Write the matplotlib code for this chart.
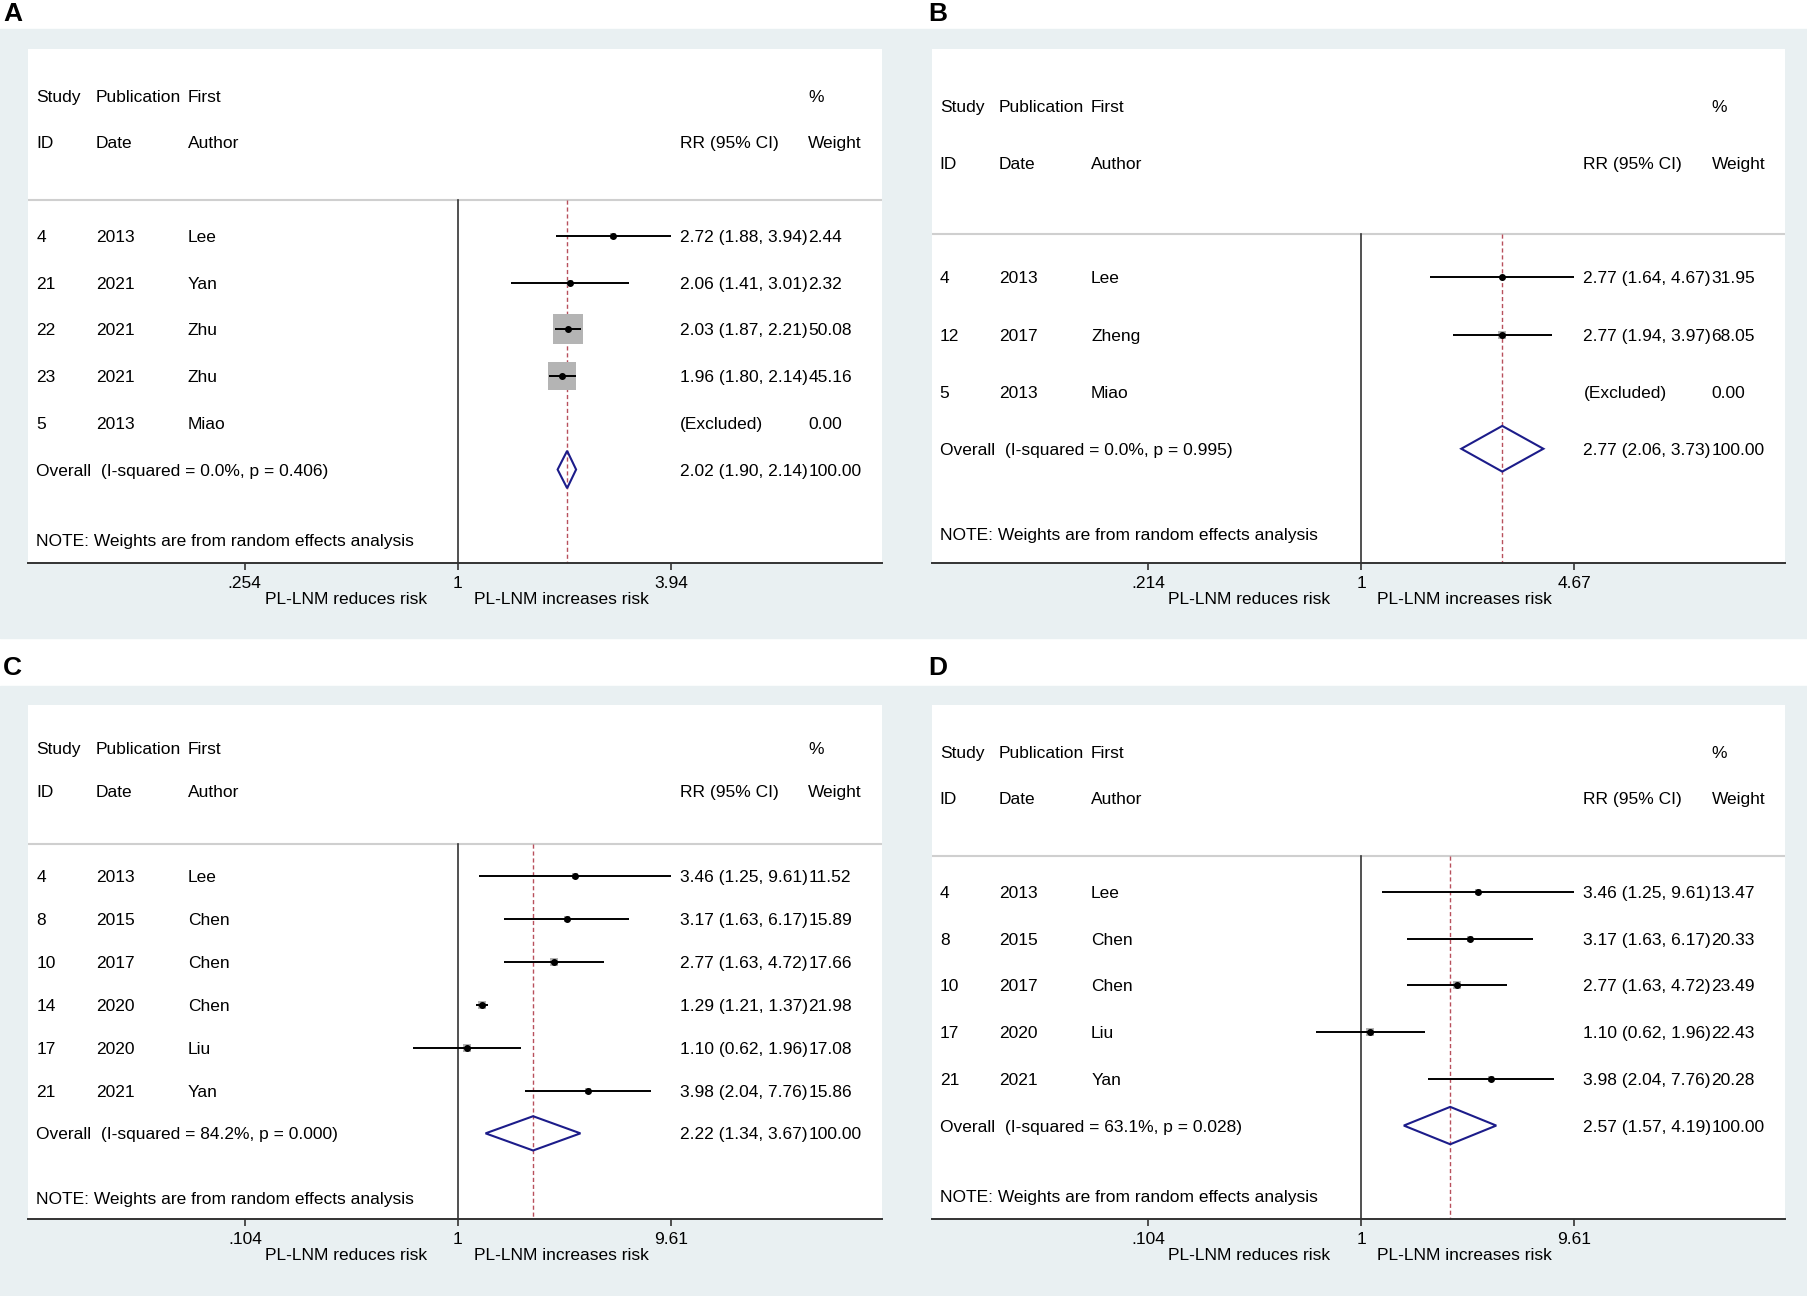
"""Four-panel forest plot (Stata metan look): RR of PL-LNM, random effects."""
import matplotlib
matplotlib.use('Agg')
import matplotlib.pyplot as plt
from matplotlib.patches import Polygon, Rectangle

plt.rcParams['font.family'] = ['Liberation Sans', 'DejaVu Sans']
FS = 12.5

# ---- panel A ----
A_ID = ['4', '21', '22', '23', '5']
A_YEAR = ['2013', '2021', '2021', '2021', '2013']
A_AUTHOR = ['Lee', 'Yan', 'Zhu', 'Zhu', 'Miao']
A_RR = [2.72, 2.06, 2.03, 1.96, None]
A_LO = [1.88, 1.41, 1.87, 1.80, None]
A_HI = [3.94, 3.01, 2.21, 2.14, None]
A_WEIGHT = [2.44, 2.32, 50.08, 45.16, 0.00]
A_OVERALL = [2.02, 1.90, 2.14]
A_I2, A_P = 0.0, 0.406
A_TICKS = [0.254, 1, 3.94]

# ---- panel B ----
B_ID = ['4', '12', '5']
B_YEAR = ['2013', '2017', '2013']
B_AUTHOR = ['Lee', 'Zheng', 'Miao']
B_RR = [2.77, 2.77, None]
B_LO = [1.64, 1.94, None]
B_HI = [4.67, 3.97, None]
B_WEIGHT = [31.95, 68.05, 0.00]
B_OVERALL = [2.77, 2.06, 3.73]
B_I2, B_P = 0.0, 0.995
B_TICKS = [0.214, 1, 4.67]

# ---- panel C ----
C_ID = ['4', '8', '10', '14', '17', '21']
C_YEAR = ['2013', '2015', '2017', '2020', '2020', '2021']
C_AUTHOR = ['Lee', 'Chen', 'Chen', 'Chen', 'Liu', 'Yan']
C_RR = [3.46, 3.17, 2.77, 1.29, 1.10, 3.98]
C_LO = [1.25, 1.63, 1.63, 1.21, 0.62, 2.04]
C_HI = [9.61, 6.17, 4.72, 1.37, 1.96, 7.76]
C_WEIGHT = [11.52, 15.89, 17.66, 21.98, 17.08, 15.86]
C_OVERALL = [2.22, 1.34, 3.67]
C_I2, C_P = 84.2, 0.000
C_TICKS = [0.104, 1, 9.61]

# ---- panel D ----
D_ID = ['4', '8', '10', '17', '21']
D_YEAR = ['2013', '2015', '2017', '2020', '2021']
D_AUTHOR = ['Lee', 'Chen', 'Chen', 'Liu', 'Yan']
D_RR = [3.46, 3.17, 2.77, 1.10, 3.98]
D_LO = [1.25, 1.63, 1.63, 0.62, 2.04]
D_HI = [9.61, 6.17, 4.72, 1.96, 7.76]
D_WEIGHT = [13.47, 20.33, 23.49, 22.43, 20.28]
D_OVERALL = [2.57, 1.57, 4.19]
D_I2, D_P = 63.1, 0.028
D_TICKS = [0.104, 1, 9.61]

# box side (pixels) per sqrt(weight), as drawn in each panel
BOX_PX = {'A': 4.2, 'B': 0.85, 'C': 1.75, 'D': 1.55}

COLS = [0.0093, 0.0788, 0.1866, 0.7634, 0.9135]
BG = '#e9f0f2'
BOX_C = '#b4b4b4'
RED = '#b8505c'
NAVY = '#1c1c8a'
AXC = '#333333'
DPI = 100


def tick_label(t):
    s = f'{t:g}'
    return s[1:] if s.startswith('0.') else s


def draw_panel(ax, ids, years, authors, rr, lo, hi, w, overall, i2, p, ticks, box_px):
    n = len(ids) + 1
    ax.set_xscale('log')
    ax.set_xlim(ticks[0] ** 2.015, ticks[-1] ** 1.99)
    ax.set_ylim(n + 1, -4)
    ax.minorticks_off()
    for s in ('top', 'left', 'right'):
        ax.spines[s].set_visible(False)
    ax.spines['bottom'].set_color(AXC)
    ax.spines['bottom'].set_linewidth(1.4)
    ax.set_yticks([])
    ax.set_xticks(ticks)
    ax.set_xticklabels([tick_label(t) for t in ticks])
    ax.tick_params(axis='x', length=5, width=1.2, color=AXC, pad=4.5, labelsize=FS)
    tr = ax.get_yaxis_transform()

    def row(y, texts):
        for x, t in zip(COLS, texts):
            if t:
                ax.text(x, y, t, transform=tr, ha='left', va='center_baseline',
                        fontsize=FS)

    row(-3, ['Study', 'Publication', 'First', '', '%'])
    row(-2, ['ID', 'Date', 'Author', 'RR (95% CI)', 'Weight'])
    ax.axhline(-0.765, color='#cfcfcf', lw=1.5, zorder=1)

    for i in range(len(ids)):
        if rr[i] is None:
            es = '(Excluded)'
        else:
            es = f'{rr[i]:.2f} ({lo[i]:.2f}, {hi[i]:.2f})'
            side = box_px * w[i] ** 0.5 * 72 / DPI
            ax.scatter([rr[i]], [i], marker='s', s=side ** 2, color=BOX_C,
                       linewidths=0, zorder=3)
            ax.plot([lo[i], hi[i]], [i, i], color='k', lw=1.4, zorder=4,
                    solid_capstyle='butt')
            ax.plot([rr[i]], [i], 'o', color='k', ms=4.0, zorder=5)
        row(i, [ids[i], years[i], authors[i], es, f'{w[i]:.2f}'])

    est, olo, ohi = overall
    yo = n - 1
    row(yo, [f'Overall  (I-squared = {i2:.1f}%, p = {p:.3f})', '', '',
             f'{est:.2f} ({olo:.2f}, {ohi:.2f})', '100.00'])
    ax.add_patch(Polygon([(olo, yo), (est, yo - 0.4), (ohi, yo), (est, yo + 0.4)],
                         closed=True, fill=False, edgecolor=NAVY, lw=1.5, zorder=4))
    ax.text(COLS[0], n + 0.5, 'NOTE: Weights are from random effects analysis',
            transform=tr, ha='left', va='center_baseline', fontsize=FS)

    ax.plot([1, 1], [-0.765, n + 1], color=AXC, lw=1.2, zorder=2, clip_on=False)
    ax.plot([est, est], [-0.765, n + 1], color=RED, lw=1.0, dashes=(3, 2), zorder=2,
            clip_on=False)

    ax.text(0.4667, -0.071, 'PL-LNM reduces risk', transform=ax.transAxes,
            ha='right', va='center', fontsize=FS)
    ax.text(0.522, -0.071, 'PL-LNM increases risk', transform=ax.transAxes,
            ha='left', va='center', fontsize=FS)


def main():
    fig = plt.figure(figsize=(18.08, 12.96), dpi=DPI)
    # grey graph regions (top and bottom rows), kept behind the axes
    fig.patches.append(Rectangle((0, 0.5077), 1, 0.4699, transform=fig.transFigure,
                                 color=BG, zorder=-5))
    fig.patches.append(Rectangle((0, 0), 1, 0.4707, transform=fig.transFigure,
                                 color=BG, zorder=-5))

    lefts = {'A': 0.01576, 'B': 0.5154, 'C': 0.01576, 'D': 0.5154}
    bottoms = {'A': 0.5656, 'B': 0.5656, 'C': 0.0594, 'D': 0.0594}
    panels = {
        'A': (A_ID, A_YEAR, A_AUTHOR, A_RR, A_LO, A_HI, A_WEIGHT, A_OVERALL, A_I2, A_P, A_TICKS),
        'B': (B_ID, B_YEAR, B_AUTHOR, B_RR, B_LO, B_HI, B_WEIGHT, B_OVERALL, B_I2, B_P, B_TICKS),
        'C': (C_ID, C_YEAR, C_AUTHOR, C_RR, C_LO, C_HI, C_WEIGHT, C_OVERALL, C_I2, C_P, C_TICKS),
        'D': (D_ID, D_YEAR, D_AUTHOR, D_RR, D_LO, D_HI, D_WEIGHT, D_OVERALL, D_I2, D_P, D_TICKS),
    }
    for key, args in panels.items():
        ax = fig.add_axes([lefts[key], bottoms[key], 0.4721, 0.3966])
        ax.set_facecolor('white')
        draw_panel(ax, *args, BOX_PX[key])

    label_pos = {'A': (0.0017, 0.989), 'B': (0.5135, 0.989),
                 'C': (0.0017, 0.4846), 'D': (0.5135, 0.4846)}
    for key, (x, y) in label_pos.items():
        fig.text(x, y, key, fontsize=19, fontweight='bold', ha='left', va='center')

    fig.savefig('out.png', dpi=DPI)
    plt.close(fig)


if __name__ == '__main__':
    main()
